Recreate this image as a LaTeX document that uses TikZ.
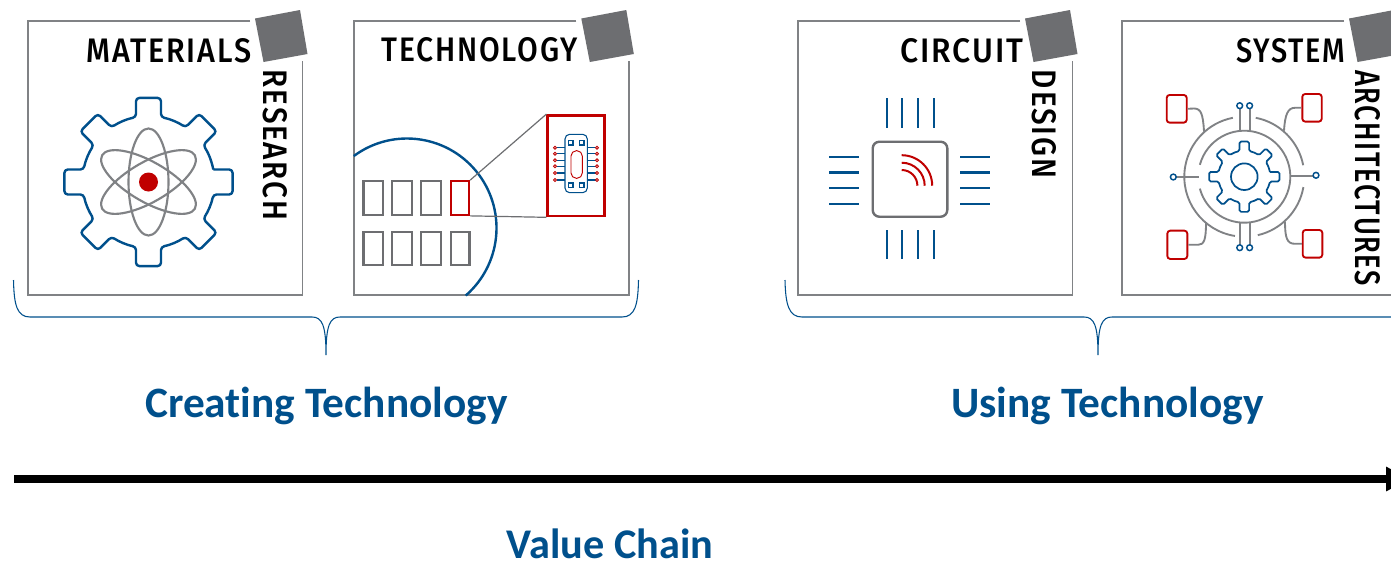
\documentclass[tikz,border=0pt]{standalone}
\usepackage{fontspec}
\usepackage{graphicx}
\setmainfont[Ligatures=NoCommon]{Carlito}
\newfontfamily\capsfont[LetterSpace=6]{Fira Sans Medium}
\usetikzlibrary{arrows.meta}
\definecolor{ablue}{RGB}{0,80,140}
\definecolor{agray}{RGB}{128,130,133}
\definecolor{adark}{RGB}{109,110,113}
\definecolor{ared}{RGB}{192,0,0}
\newdimen\pxu \pxu=0.75pt
\newcommand\caplabel[3]{\resizebox{#1\pxu}{#2\pxu}{\capsfont #3}}
\newcommand\gearpath[4]{%
  \pgfmathsetmacro\dO{asin(#3/#1)}%
  \pgfmathsetmacro\dR{asin(#3/#2)}%
  \draw[#4] ({-\dR}:#2) \foreach \a in {0,45,...,315} {
    -- ({\a-\dO}:#1) -- ({\a+\dO}:#1) -- ({\a+\dR}:#2)
    arc[start angle={\a+\dR},end angle={\a+45-\dR},radius=#2] };}
\newcommand\framecard[1]{%
  \begin{scope}[xshift=#1*0.75pt]
    \draw[frameline] (250,21) -- (28,21) -- (28,295) -- (302.5,295) -- (302.5,61);
    \fill[adark] (255,18.5) -- (300,10) -- (307.5,54) -- (263.5,62) -- cycle;
  \end{scope}}
\tikzset{
  frameline/.style={agray,line width=1.3pt},
  bluegear/.style={ablue,line width=1.8pt,rounded corners=2.5pt,line join=round},
  atom/.style={agray,line width=1.6pt},
  waferline/.style={ablue,line width=1.8pt},
  cell/.style={adark,line width=1.8pt},
  redcell/.style={ared,line width=1.3pt},
  zoomline/.style={adark,line width=0.9pt},
  lead/.style={ablue,line width=1.8pt},
  bracket/.style={ablue,line width=0.8pt},
  wire/.style={agray,line width=1.4pt},
  redbox/.style={ared,line width=1.4pt,rounded corners=2.2pt},
  tinyblue/.style={ablue,line width=0.8pt},
  tinyred/.style={ared,line width=0.6pt},
  headline/.style={ablue,font=\fontsize{32.5pt}{34pt}\selectfont\bfseries,inner sep=0pt},
  caption/.style={inner sep=0pt,text=black},
}
\begin{document}
\begin{tikzpicture}[x=0.75pt,y=-0.75pt]
\clip (0,0) rectangle (1391,561);
\fill[white] (0,0) rectangle (1391,561);
% frames
\framecard{0}
\framecard{326.3}
\framecard{770}
\framecard{1094}
% captions
\node[caption] (materials) at (169,50.8) {\caplabel{165}{24}{MATERIALS}};
\node[caption,rotate=-90] (research) at (275.3,145) {\caplabel{150}{24}{RESEARCH}};
\node[caption] (technology) at (479.5,49.5) {\caplabel{196}{24}{TECHNOLOGY}};
\node[caption] (circuit) at (961.7,50.5) {\caplabel{123}{24}{CIRCUIT}};
\node[caption,rotate=-90] (design) at (1043.8,124) {\caplabel{108}{24}{DESIGN}};
\node[caption] (system) at (1290.5,50.5) {\caplabel{109}{24}{SYSTEM}};
\node[caption,rotate=-90] (archi) at (1367.8,178) {\caplabel{216}{25}{ARCHITECTURES}};
% materials gear
\begin{scope}[shift={(148.5,182)}]
  \gearpath{85}{66}{12.5}{bluegear}
  \draw[atom] (0,0) ellipse[x radius=20,y radius=53.5];
  \draw[atom,rotate=60] (0,0) ellipse[x radius=20,y radius=53.5];
  \draw[atom,rotate=-60] (0,0) ellipse[x radius=20,y radius=53.5];
  \fill[ared] (0,0) circle[radius=9.5];
\end{scope}
% wafer
\draw[waferline] (407,228) ++(-126.5:89.5) arc[start angle=-126.5,end angle=49,radius=89.5];
\foreach \xa/\xb in {363.3/382.7,391.7/411.7,420.7/440.7}
  \draw[cell] (\xa,181) rectangle (\xb,215);
\foreach \xa/\xb in {363.3/382.7,391.7/411.7,420.7/440.7,450.7/469.3}
  \draw[cell] (\xa,231.7) rectangle (\xb,265);
\node[draw=ared,redcell,inner sep=0pt,minimum width=18.6*0.75pt,minimum height=34*0.75pt] (die) at (460,198) {};
\node[draw=ared,line width=1.9pt,inner sep=0pt,minimum width=56.6*0.75pt,minimum height=100.7*0.75pt] (zoomdie) at (576,165.7) {};
\draw[zoomline] (die.north east) -- (zoomdie.north west);
\draw[zoomline] (die.south east) -- (zoomdie.south west);
% chip in zoom
\draw[tinyblue,rounded corners=3.5pt] (565,134.3) rectangle (587.3,192.7);
\foreach \px/\py in {570.7/142.7,581.7/142.7,570.7/185.3,581.7/185.3}
  \draw[tinyblue] (\px-2.3,\py-2.3) rectangle (\px+2.3,\py+2.3);
\draw[tinyred,rounded corners=4pt,line width=0.7pt] (571,150.7) rectangle (582.3,178.3);
\foreach \py in {147.7,153.7,160.3,166.3,173,180} {
  \draw[tinyblue] (556.5,\py) -- (565,\py);
  \draw[tinyblue] (587.3,\py) -- (595.5,\py);
  \draw[tinyred,fill=white] (555,\py) circle[radius=1.5];
  \draw[tinyred,fill=white] (597,\py) circle[radius=1.5];
}
% circuit
\draw[adark,line width=1.8pt,rounded corners=5pt] (872.7,141.7) rectangle (947.3,216.7);
\foreach \lx in {886.7,902,917.7,933.7} {
  \draw[lead] (\lx,98.3) -- (\lx,127.7);
  \draw[lead] (\lx,230) -- (\lx,259);
}
\foreach \ly in {156.7,172.3,187.7,203.7} {
  \draw[lead] (829.3,\ly) -- (859.3,\ly);
  \draw[lead] (960,\ly) -- (990,\ly);
}
\foreach \r in {15.7,23,30.5}
  \draw[ared,line width=1.5pt] (901.7,185.7) ++(-90:\r) arc[start angle=-90,end angle=0,radius=\r];
% system
\begin{scope}[shift={(1244.3,176.7)}]
  \gearpath{35.5}{26}{4.8}{ablue,line width=1.3pt,rounded corners=1.2pt,line join=round}
  \draw[ablue,line width=1.3pt] (0,0) circle[radius=13.3];
  \draw[wire] (-165:46) arc[start angle=-165,end angle=165,radius=46];
  \draw[wire] (-79:60) arc[start angle=-79,end angle=-11,radius=60];
  \draw[wire] (10:60) arc[start angle=10,end angle=77,radius=60];
  \draw[wire] (99:60) arc[start angle=99,end angle=259,radius=60];
\end{scope}
\foreach \lx in {1239.7,1249.6} {
  \draw[wire] (\lx,108.5) -- (\lx,130.7);
  \draw[wire] (\lx,222.7) -- (\lx,245);
  \draw[ablue,line width=1.1pt] (\lx,105.7) circle[radius=2.9];
  \draw[ablue,line width=1.1pt] (\lx,247.7) circle[radius=2.9];
}
\draw[wire] (1176,177) -- (1199.3,177);
\draw[wire] (1291,176) -- (1313.3,176);
\draw[ablue,line width=1.1pt] (1173.3,177) circle[radius=2.9];
\draw[ablue,line width=1.1pt] (1316,175.3) circle[radius=2.9];
\node[draw=ared,redbox,inner sep=0pt,minimum width=20*0.75pt,minimum height=27.7*0.75pt] (tl) at (1176.7,108.8) {};
\node[draw=ared,redbox,inner sep=0pt,minimum width=19.4*0.75pt,minimum height=27.7*0.75pt] (tr) at (1312,107.8) {};
\node[draw=ared,redbox,inner sep=0pt,minimum width=20*0.75pt,minimum height=28.3*0.75pt] (bl) at (1177.3,244.8) {};
\node[draw=ared,redbox,inner sep=0pt,minimum width=19.6*0.75pt,minimum height=27.7*0.75pt] (br) at (1312.5,243.8) {};
\draw[wire] (tl.east) -- (1194,108.5) .. controls (1201,108.5) and (1203,114) .. (1204,131.5);
\draw[wire] (tr.west) -- (1295,107.8) .. controls (1288,107.8) and (1285,114) .. (1284,130.7);
\draw[wire] (bl.east) -- (1198,244.8) .. controls (1204,244.8) and (1206,240) .. (1206,222.7);
\draw[wire] (br.west) -- (1295,243.8) .. controls (1287,243.8) and (1285,238) .. (1285,221.7);
% brackets
\draw[bracket] (13.5,280) .. controls (14,305) and (17,317) .. (30,317) -- (312,317) .. controls (322,317) and (326,325) .. (326,355) .. controls (326,325) and (330,317) .. (340,317) -- (622,317) .. controls (635,317) and (638,305) .. (638.5,280);
\draw[bracket] (785,280) .. controls (785.5,305) and (789,317) .. (802,317) -- (1084,317) .. controls (1094,317) and (1098,325) .. (1098,355) .. controls (1098,325) and (1102,317) .. (1112,317) -- (1394,317);
% headlines
\node[headline] (creating) at (326.5,406) {Creating Technology};
\node[headline] (using) at (1107.5,406) {Using Technology};
\node[headline,font=\fontsize{31.7pt}{33pt}\selectfont\bfseries] (chain) at (610,543.5) {Value Chain};
% arrow
\coordinate (arrowstart) at (14,479);
\coordinate (arrowend) at (1410,479);
\draw[line width=6pt,-{Triangle[length=18pt,width=17.25pt]}] (arrowstart) -- (arrowend);
\end{tikzpicture}
\end{document}
